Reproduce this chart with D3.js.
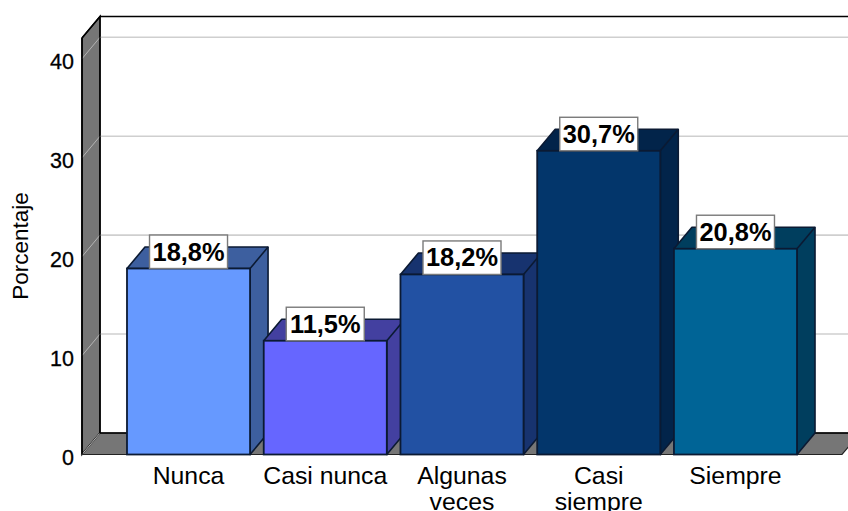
<!DOCTYPE html>
<html>
<head>
<meta charset="utf-8">
<script src="https://cdn.jsdelivr.net/npm/d3@7/dist/d3.min.js"></script>
<style>
  html, body { margin: 0; padding: 0; background: #fff; overflow: hidden; }
  svg { display: block; }
  text { font-family: "Liberation Sans", Arial, sans-serif; fill: #000; }
</style>
</head>
<body>
<svg id="chart" width="848" height="511"></svg>
<script>
// Response shares per frequency category
const categories = ["Nunca", "Casi nunca", "Algunas veces", "Casi siempre", "Siempre"];
const percentages = [18.8, 11.5, 18.2, 30.7, 20.8];
const frontColors = ["#6699FF", "#6666FF", "#2251A3", "#03366B", "#006496"];
const sideColors = ["#3D5F9F", "#4340A0", "#17336F", "#02244A", "#003E5E"];
const yTicks = [0, 10, 20, 30, 40];

const svg = d3.select("#chart");

// Front plane of the 3D box and the oblique depth offset
const plot = { left: 82, right: 842, bottom: 454.5, top: 38 };
const depth = { x: 18, y: -21.5 };

const y = d3.scaleLinear().domain([0, 42.1]).range([plot.bottom, plot.top]);
const x = d3.scaleBand()
  .domain(categories)
  .range([plot.left, plot.right])
  .paddingInner(0.1)
  .paddingOuter(0.329);

const poly = pts => "M" + pts.map(p => p.join(",")).join("L") + "Z";
const wallFill = "#767676";

// Back wall
const back = svg.append("g");
back.append("rect")
  .attr("x", plot.left + depth.x).attr("y", plot.top + depth.y)
  .attr("width", plot.right - plot.left).attr("height", plot.bottom - plot.top)
  .attr("fill", "#fff");

// Left wall
back.append("path")
  .attr("d", poly([
    [plot.left, plot.top],
    [plot.left + depth.x, plot.top + depth.y],
    [plot.left + depth.x, plot.bottom + depth.y],
    [plot.left, plot.bottom]
  ]))
  .attr("fill", wallFill).attr("stroke", "#000").attr("stroke-width", 1.4);

// Floor
back.append("path")
  .attr("d", poly([
    [plot.left, plot.bottom],
    [plot.left + depth.x, plot.bottom + depth.y],
    [plot.right + depth.x, plot.bottom + depth.y],
    [plot.right, plot.bottom]
  ]))
  .attr("fill", wallFill).attr("stroke", "#222").attr("stroke-width", 1.2);

// Gridlines across the back wall, continuing down the left wall
const gridTicks = yTicks.filter(d => d > 0);
back.selectAll("line.grid").data(gridTicks).join("line")
  .attr("class", "grid")
  .attr("x1", plot.left + depth.x).attr("x2", plot.right + depth.x)
  .attr("y1", d => y(d) + depth.y).attr("y2", d => y(d) + depth.y)
  .attr("stroke", "#cfcfcf").attr("stroke-width", 1.6);
back.selectAll("line.slant").data(yTicks).join("line")
  .attr("class", "slant")
  .attr("x1", plot.left).attr("x2", plot.left + depth.x)
  .attr("y1", d => y(d)).attr("y2", d => y(d) + depth.y)
  .attr("stroke", "#b4b4b4").attr("stroke-width", 1);

// Box edges that sit on top of the walls
back.append("path")
  .attr("d", poly([
    [plot.left, plot.top],
    [plot.left + depth.x, plot.top + depth.y],
    [plot.right + depth.x, plot.top + depth.y],
    [plot.right + depth.x, plot.bottom + depth.y],
    [plot.left + depth.x, plot.bottom + depth.y],
    [plot.left + depth.x, plot.top + depth.y]
  ]))
  .attr("fill", "none").attr("stroke", "#000").attr("stroke-width", 1.4);
back.append("line")
  .attr("x1", plot.left).attr("x2", plot.left)
  .attr("y1", plot.top).attr("y2", plot.bottom)
  .attr("stroke", "#000").attr("stroke-width", 1.6);

// Bars: top and side faces first, then the front
const barStroke = "#0b1a33";
const rows = categories.map((c, i) => ({
  c, v: percentages[i], front: frontColors[i], side: sideColors[i]
}));
const bars = svg.append("g").selectAll("g").data(rows).join("g");

bars.append("path")
  .attr("d", d => {
    const l = x(d.c), r = l + x.bandwidth(), t = y(d.v);
    return poly([
      [l, t], [l + depth.x, t + depth.y], [r + depth.x, t + depth.y],
      [r + depth.x, plot.bottom + depth.y], [r, plot.bottom], [r, t]
    ]);
  })
  .attr("fill", d => d.side)
  .attr("stroke", barStroke).attr("stroke-width", 1.6).attr("stroke-linejoin", "round");

// Edge between the top and side faces
bars.append("line")
  .attr("x1", d => x(d.c) + x.bandwidth())
  .attr("y1", d => y(d.v))
  .attr("x2", d => x(d.c) + x.bandwidth() + depth.x)
  .attr("y2", d => y(d.v) + depth.y)
  .attr("stroke", barStroke).attr("stroke-width", 1.6);

bars.append("rect")
  .attr("x", d => x(d.c)).attr("y", d => y(d.v))
  .attr("width", x.bandwidth()).attr("height", d => plot.bottom - y(d.v))
  .attr("fill", d => d.front)
  .attr("stroke", barStroke).attr("stroke-width", 1.8);

// Value labels: white boxes resting on each bar's front top edge
const fmt = v => v.toFixed(1).replace(".", ",") + "%";
const boxW = 78, boxH = 33.5;
const labels = svg.append("g").selectAll("g").data(rows).join("g")
  .attr("transform", d => `translate(${x(d.c) + x.bandwidth() / 2},${y(d.v)})`);
labels.append("rect")
  .attr("x", -boxW / 2).attr("y", -boxH).attr("width", boxW).attr("height", boxH)
  .attr("fill", "#fff").attr("stroke", "#7a7a7a").attr("stroke-width", 1.4);
labels.append("text")
  .attr("y", -8).attr("text-anchor", "middle")
  .attr("font-size", 25.4).attr("font-weight", 700)
  .text(d => fmt(d.v));

// Value axis
const yAxis = svg.append("g")
  .attr("transform", `translate(${plot.left},0)`)
  .call(d3.axisLeft(y).tickValues(yTicks).tickSize(0).tickPadding(8));
yAxis.select(".domain").remove();
yAxis.selectAll("text")
  .attr("font-size", 21.5).attr("dy", "0.47em")
  .style("font-family", '"Liberation Sans", Arial, sans-serif')
  .style("stroke", "#000").style("stroke-width", 0.3);

// Category axis, wrapping two-word names except "Casi nunca"
const xAxis = svg.append("g")
  .attr("transform", `translate(0,${plot.bottom})`)
  .call(d3.axisBottom(x).tickSize(0).tickFormat(""));
xAxis.select(".domain").remove();
xAxis.selectAll("g.tick text").each(function (d) {
  const lines = d === "Casi nunca" ? [d] : d.split(" ");
  const t = d3.select(this)
    .attr("y", 29).attr("dy", null)
    .attr("font-size", 24.8)
    .style("font-family", '"Liberation Sans", Arial, sans-serif');
  lines.forEach((line, i) => {
    t.append("tspan").attr("x", 0).attr("dy", i ? 26.5 : 0).text(line);
  });
});

// Axis title
svg.append("text")
  .attr("transform", "translate(28,246) rotate(-90)")
  .attr("text-anchor", "middle")
  .attr("font-size", 22.5)
  .text("Porcentaje");
</script>
</body>
</html>
